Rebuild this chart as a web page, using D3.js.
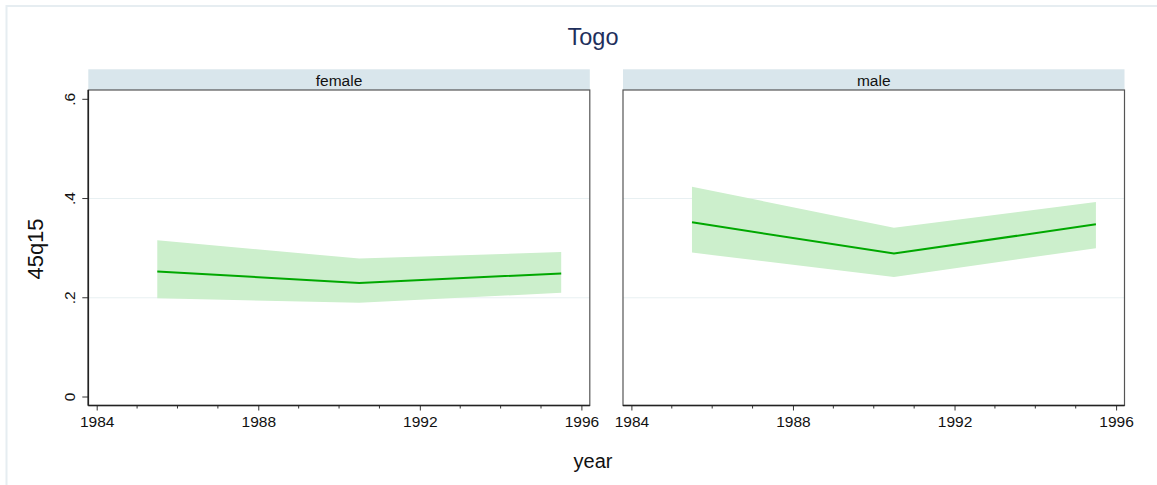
<!DOCTYPE html>
<html>
<head>
<meta charset="utf-8">
<script src="https://cdn.jsdelivr.net/npm/d3@7"></script>
<style>
  body { margin: 0; background: #fff; }
  svg { display: block; font-family: Arial, "Liberation Sans", sans-serif; }
</style>
</head>
<body>
<div id="chart"></div>
<script>
var panels = ['female', 'male'];
var years = [1985.5, 1990.5, 1995.5];
var femaleMean = [0.253, 0.230, 0.249];
var femaleLo = [0.199, 0.190, 0.210];
var femaleHi = [0.316, 0.279, 0.292];
var maleMean = [0.352, 0.289, 0.348];
var maleLo = [0.291, 0.242, 0.300];
var maleHi = [0.424, 0.341, 0.393];
var xTicks = [1984, 1988, 1992, 1996];
var xMinor = d3.range(1984, 1997);
var yTicks = [0, 0.2, 0.4, 0.6];
var yTickLabels = ['0', '.2', '.4', '.6'];
var gridTicks = [0.2, 0.4];

var series = {
  female: { mean: femaleMean, lo: femaleLo, hi: femaleHi },
  male: { mean: maleMean, lo: maleLo, hi: maleHi }
};

// Chart Setup
var width = 1157, height = 485;
var plotTop = 90, plotBottom = 405.5;
var panelLeft = [88.3, 623];
var panelWidth = 501.5;
var pad = 8.4;

var svg = d3.select('#chart')
  .append('svg')
  .attr('width', width)
  .attr('height', height);

// outer frame (only top and left edges show inside the window)
svg.append('rect')
  .attr('x', 6.5)
  .attr('y', 6)
  .attr('width', width + 20)
  .attr('height', height + 20)
  .attr('fill', 'none')
  .attr('stroke', '#e6edf1')
  .attr('stroke-width', 2);

var yScale = d3.scaleLinear()
  .domain([0, 0.6])
  .range([397, 99.3]);

svg.append('text')
  .attr('x', 593)
  .attr('y', 45)
  .attr('text-anchor', 'middle')
  .attr('font-size', 23.5)
  .attr('fill', '#1e2f5c')
  .text('Togo');

panels.forEach(function (name, i) {
  var x0 = panelLeft[i];
  var x1 = x0 + panelWidth;
  var xScale = d3.scaleLinear()
    .domain([1984, 1996])
    .range([x0 + pad, x1 - pad]);
  var g = svg.append('g');
  var s = series[name];
  var rows = years.map(function (yr, k) {
    return { year: yr, mean: s.mean[k], lo: s.lo[k], hi: s.hi[k] };
  });

  // Strip
  g.append('rect')
    .attr('x', x0)
    .attr('y', 69.3)
    .attr('width', panelWidth)
    .attr('height', plotTop - 69.3)
    .attr('fill', '#d9e6ec');
  g.append('text')
    .attr('x', (x0 + x1) / 2)
    .attr('y', 85.5)
    .attr('text-anchor', 'middle')
    .attr('font-size', 15.5)
    .attr('fill', '#111')
    .text(name);

  // Gridlines
  g.selectAll('.grid')
    .data(gridTicks)
    .enter()
    .append('line')
    .attr('x1', x0)
    .attr('x2', x1)
    .attr('y1', function (d) { return yScale(d); })
    .attr('y2', function (d) { return yScale(d); })
    .attr('stroke', '#e8f0f2')
    .attr('stroke-width', 1);

  // Confidence band and mean line
  var area = d3.area()
    .x(function (d) { return xScale(d.year); })
    .y0(function (d) { return yScale(d.lo); })
    .y1(function (d) { return yScale(d.hi); });
  g.append('path')
    .datum(rows)
    .attr('d', area)
    .attr('fill', '#ccefcc');
  var line = d3.line()
    .x(function (d) { return xScale(d.year); })
    .y(function (d) { return yScale(d.mean); });
  g.append('path')
    .datum(rows)
    .attr('d', line)
    .attr('fill', 'none')
    .attr('stroke', '#00a800')
    .attr('stroke-width', 2);

  // Plot border
  g.append('rect')
    .attr('x', x0)
    .attr('y', plotTop)
    .attr('width', panelWidth)
    .attr('height', plotBottom - plotTop)
    .attr('fill', 'none')
    .attr('stroke', '#555')
    .attr('stroke-width', 1.2);

  // X-Axis
  var xAxis = d3.axisBottom(xScale)
    .tickValues(xTicks)
    .tickFormat(d3.format('d'))
    .tickSize(5)
    .tickPadding(5)
    .tickSizeOuter(0);
  var xa = g.append('g')
    .attr('transform', 'translate(0,' + plotBottom + ')')
    .call(xAxis);
  xa.select('.domain').remove();
  xa.selectAll('text').attr('font-size', 15.5).attr('fill', '#111');
  xa.selectAll('line').attr('stroke', '#333');
  g.selectAll('.minor')
    .data(xMinor.filter(function (d) { return xTicks.indexOf(d) < 0; }))
    .enter()
    .append('line')
    .attr('x1', function (d) { return xScale(d); })
    .attr('x2', function (d) { return xScale(d); })
    .attr('y1', plotBottom)
    .attr('y2', plotBottom + 3)
    .attr('stroke', '#333');

  g.append('line')
    .attr('x1', x0)
    .attr('x2', x1)
    .attr('y1', plotBottom)
    .attr('y2', plotBottom)
    .attr('stroke', '#222')
    .attr('stroke-width', 1.6);

  // Y-Axis, only on the first panel
  if (i > 0) return;
  var ya = g.append('g');
  ya.selectAll('line')
    .data(yTicks)
    .enter()
    .append('line')
    .attr('x1', x0 - 6)
    .attr('x2', x0)
    .attr('y1', function (d) { return yScale(d); })
    .attr('y2', function (d) { return yScale(d); })
    .attr('stroke', '#333');
  ya.selectAll('text')
    .data(yTicks)
    .enter()
    .append('text')
    .attr('text-anchor', 'middle')
    .attr('font-size', 15.5)
    .attr('fill', '#111')
    .attr('transform', function (d) {
      return 'translate(' + (x0 - 13) + ',' + yScale(d) + ')rotate(-90)';
    })
    .text(function (d, k) { return yTickLabels[k]; });
  g.append('line')
    .attr('x1', x0)
    .attr('x2', x0)
    .attr('y1', plotTop)
    .attr('y2', plotBottom)
    .attr('stroke', '#222')
    .attr('stroke-width', 1.6);
});

// Axis titles
svg.append('text')
  .attr('text-anchor', 'middle')
  .attr('font-size', 22)
  .attr('fill', '#111')
  .attr('transform', 'translate(42.5,249)rotate(-90)')
  .text('45q15');
svg.append('text')
  .attr('x', 593)
  .attr('y', 468)
  .attr('text-anchor', 'middle')
  .attr('font-size', 20)
  .attr('fill', '#111')
  .text('year');
</script>
</body>
</html>
